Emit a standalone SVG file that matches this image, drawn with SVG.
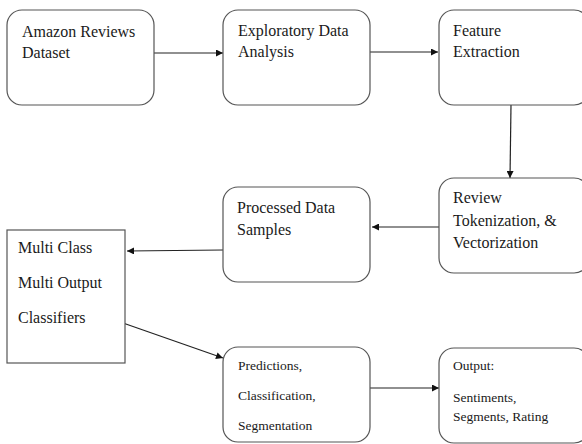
<svg xmlns="http://www.w3.org/2000/svg" width="582" height="444" viewBox="0 0 582 444">
<style>
.box{fill:#fff;stroke:#555;stroke-width:1.2}
.t{font-family:"Liberation Serif","Times New Roman",serif;font-size:16px;fill:#1a1a1a}
.s{font-family:"Liberation Serif","Times New Roman",serif;font-size:13.5px;fill:#1a1a1a}
.c{stroke:#222;stroke-width:1.2;fill:none;marker-end:url(#ah)}
</style>
<defs>
<marker id="ah" viewBox="0 0 10 10" refX="10" refY="5" markerWidth="8" markerHeight="7" markerUnits="userSpaceOnUse" orient="auto">
<path d="M0,0 L10,5 L0,10 z" fill="#111"/>
</marker>
</defs>
<rect width="582" height="444" fill="#fff"/>
<g id="connectors">
<line class="c" x1="154" y1="53" x2="223" y2="53"/>
<line class="c" x1="370" y1="52" x2="438" y2="52"/>
<line class="c" x1="511" y1="105" x2="510" y2="178"/>
<line class="c" x1="439" y1="227" x2="372" y2="227"/>
<line class="c" x1="223" y1="250" x2="127" y2="251"/>
<line class="c" x1="123" y1="323" x2="223" y2="358"/>
<line class="c" x1="370" y1="388" x2="439" y2="388"/>
</g>
<g id="n1"><rect class="box" x="7" y="10" width="147" height="95" rx="15"/>
<text class="t" x="22" y="37">Amazon Reviews</text><text class="t" x="22" y="58">Dataset</text></g>
<g id="n2"><rect class="box" x="223" y="10" width="147" height="95" rx="15"/>
<text class="t" x="238" y="36">Exploratory Data</text><text class="t" x="238" y="57">Analysis</text></g>
<g id="n3"><rect class="box" x="439" y="10" width="150" height="95" rx="15"/>
<text class="t" x="453" y="36">Feature</text><text class="t" x="453" y="57">Extraction</text></g>
<g id="n4"><rect class="box" x="439" y="178" width="150" height="95" rx="15"/>
<text class="t" x="453" y="203">Review</text><text class="t" x="453" y="226">Tokenization, &amp;</text><text class="t" x="453" y="248">Vectorization</text></g>
<g id="n5"><rect class="box" x="223" y="187" width="147" height="95" rx="15"/>
<text class="t" x="237" y="213">Processed Data</text><text class="t" x="237" y="235">Samples</text></g>
<g id="n6"><rect class="box" x="7" y="230" width="118" height="133"/>
<text class="t" x="18" y="253">Multi Class</text><text class="t" x="18" y="288">Multi Output</text><text class="t" x="18" y="323">Classifiers</text></g>
<g id="n7"><rect class="box" x="223" y="347" width="147" height="95" rx="15"/>
<text class="s" x="238" y="370">Predictions,</text><text class="s" x="238" y="400">Classification,</text><text class="s" x="238" y="430">Segmentation</text></g>
<g id="n8"><rect class="box" x="439" y="348" width="150" height="95" rx="15"/>
<text class="s" x="453" y="370">Output:</text><text class="s" x="453" y="402">Sentiments,</text><text class="s" x="453" y="421">Segments, Rating</text></g>
</svg>
